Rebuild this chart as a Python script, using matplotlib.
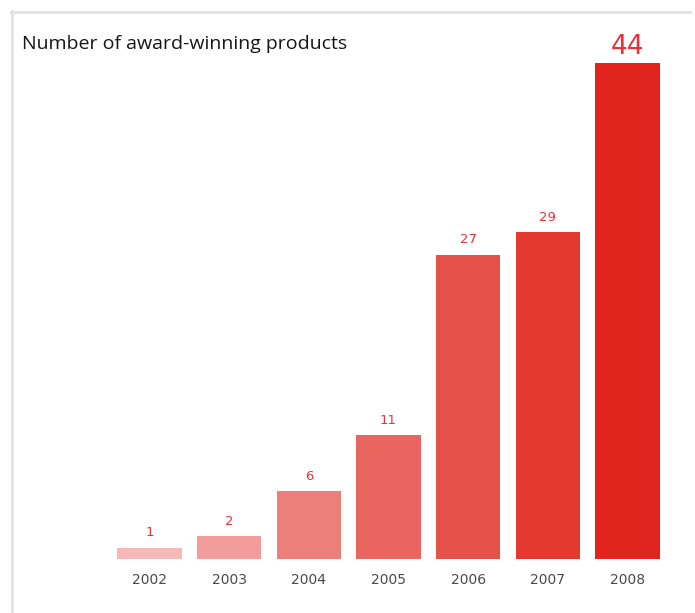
import matplotlib.pyplot as plt
from matplotlib.lines import Line2D

years = ['2002', '2003', '2004', '2005', '2006', '2007', '2008']
products = [1, 2, 6, 11, 27, 29, 44]
bar_colors = ['#f5b9b8', '#f29d9b', '#ec7f7a', '#e9655f', '#e5524a', '#e3392f', '#e2241f']

fig = plt.figure(figsize=(6.95, 6.13), dpi=100)
ax = fig.add_axes([109.7 / 695, 54 / 613, 557.7 / 695, 496 / 613])

x = range(len(years))
ax.bar(x, products, width=0.81, color=bar_colors)
ax.set_xlim(-0.5, 6.5)
ax.set_ylim(0, 44)

for i, v in enumerate(products):
    big = (i == len(products) - 1)
    ax.annotate(str(v), (i, v), xytext=(0, 2 if big else 6), textcoords='offset points',
                ha='center', va='bottom', color='#e8323a',
                fontsize=19 if big else 9.5, annotation_clip=False)

ax.set_xticks(list(x))
ax.set_xticklabels(years, fontsize=10, color='#4a4a4a')
ax.tick_params(axis='x', length=0, pad=10)
ax.set_yticks([])
for s in ax.spines.values():
    s.set_visible(False)

fig.text(22 / 695, 1 - 44 / 613, 'Number of award-winning products', fontsize=14,
         family='Open Sans', color='#161616', va='center', ha='left')

# light grey frame on the top and left
fig.add_artist(Line2D([12 / 695, 12 / 695], [0, 1 - 11 / 613], color='#e2e2e2', lw=2))
fig.add_artist(Line2D([11 / 695, 690 / 695], [1 - 12 / 613, 1 - 12 / 613], color='#e2e2e2', lw=2))

fig.savefig('out.png', dpi=100)
